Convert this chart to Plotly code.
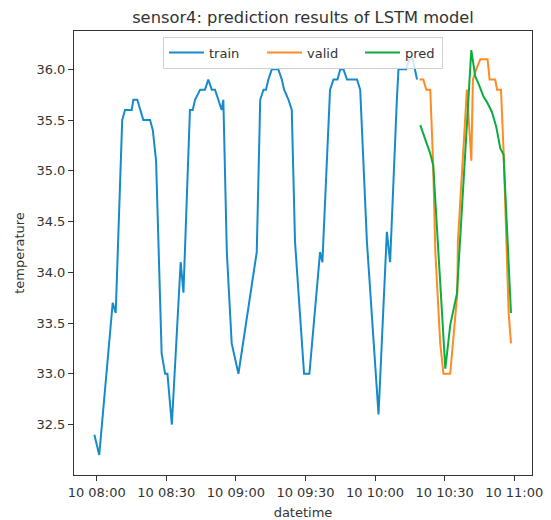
import plotly.graph_objects as go

DAY = "2021-06-10 "

train_time = ["07:59:00", "08:01:06", "08:06:54", "08:08:12", "08:11:00", "08:12:12", "08:15:06",
              "08:15:48", "08:17:30", "08:18:42", "08:20:06", "08:23:00", "08:24:12", "08:25:36",
              "08:26:36", "08:28:00", "08:29:30", "08:30:30", "08:32:24", "08:36:12", "08:37:24",
              "08:40:12", "08:41:24", "08:42:24", "08:44:36", "08:46:42", "08:48:06", "08:49:36",
              "08:51:00", "08:52:30", "08:53:54", "08:54:36", "08:56:06", "08:58:12", "09:00:24",
              "09:01:06", "09:09:00", "09:10:30", "09:11:54", "09:13:00", "09:14:00", "09:15:30",
              "09:18:18", "09:19:48", "09:20:48", "09:22:42", "09:24:06", "09:25:30", "09:29:24",
              "09:31:42", "09:36:18", "09:37:18", "09:40:36", "09:42:06", "09:43:48", "09:45:00",
              "09:46:24", "09:47:54", "09:52:12", "09:53:36", "09:56:30", "10:00:06", "10:01:30",
              "10:05:06", "10:06:30", "10:09:24", "10:10:06", "10:13:24", "10:14:54", "10:16:18",
              "10:18:06"]
train_temp = [32.4, 32.2, 33.7, 33.6, 35.5, 35.6, 35.6,
              35.7, 35.7, 35.6, 35.5, 35.5, 35.4, 35.1,
              34.2, 33.2, 33.0, 33.0, 32.5, 34.1, 33.8,
              35.6, 35.6, 35.7, 35.8, 35.8, 35.9, 35.8,
              35.8, 35.7, 35.6, 35.7, 34.2, 33.3, 33.05,
              33.0, 34.2, 35.7, 35.8, 35.8, 35.9, 36.0,
              36.0, 35.9, 35.8, 35.7, 35.6, 34.3, 33.0,
              33.0, 34.2, 34.1, 35.8, 35.9, 35.9, 36.0,
              36.0, 35.9, 35.9, 35.8, 34.3, 33.0, 32.6,
              34.4, 34.1, 35.7, 36.0, 36.0, 36.1, 36.1,
              35.9]

valid_time = ["10:19:12", "10:20:48", "10:22:06", "10:23:48", "10:25:00", "10:26:00", "10:28:06",
              "10:29:30", "10:32:24", "10:35:30", "10:35:42", "10:39:36", "10:41:30", "10:42:12",
              "10:43:36", "10:45:24", "10:48:30", "10:49:24", "10:51:48", "10:52:36", "10:54:18",
              "10:55:24", "10:57:36", "10:58:36"]
valid_temp = [35.9, 35.9, 35.8, 35.8, 35.1, 34.2, 33.3,
              33.0, 33.0, 33.8, 34.3, 35.8, 35.1, 35.9,
              36.0, 36.1, 36.1, 35.9, 35.9, 35.8, 35.8,
              35.2, 33.6, 33.3]

pred_time = ["10:19:30", "10:22:24", "10:23:48", "10:25:06", "10:30:18", "10:32:24", "10:35:18",
             "10:41:30", "10:43:12", "10:44:36", "10:46:48", "10:48:12", "10:50:24", "10:52:18",
             "10:54:00", "10:55:24", "10:58:36"]
pred_temp = [35.45, 35.25, 35.17, 35.05, 33.05, 33.48, 33.79,
             36.19, 35.93, 35.86, 35.73, 35.68, 35.58, 35.43,
             35.22, 35.16, 33.6]

x_range = ["07:50:13", "11:07:40"]
y_range = [32.003, 36.378]

BLUE = "#168bca"
ORANGE = "#ff8b22"
GREEN = "#0cad3f"
TEXT = "#333333"
FONT = "DejaVu Sans"

fig = go.Figure()
fig.add_trace(go.Scatter(x=[DAY + t for t in train_time], y=train_temp, mode="lines",
                         name="train", line=dict(color=BLUE, width=2)))
fig.add_trace(go.Scatter(x=[DAY + t for t in valid_time], y=valid_temp, mode="lines",
                         name="valid", line=dict(color=ORANGE, width=2)))
fig.add_trace(go.Scatter(x=[DAY + t for t in pred_time], y=pred_temp, mode="lines",
                         name="pred", line=dict(color=GREEN, width=2), legendwidth=32))

fig.update_layout(
    width=551, height=520,
    margin=dict(l=74, r=19, t=31, b=45),
    plot_bgcolor="white", paper_bgcolor="white",
    font=dict(family=FONT, size=13, color=TEXT),
    title=dict(text="sensor4: prediction results of LSTM model", x=0.5, xref="paper",
               xanchor="center", y=1 - 17.5 / 520, yref="container", yanchor="middle",
               font=dict(size=16.3, color=TEXT)),
    legend=dict(orientation="h", x=0.5, xanchor="center", y=0.9876, yanchor="top",
                bgcolor="rgba(255,255,255,0.8)", bordercolor="#d0d0d0", borderwidth=1,
                itemwidth=35, entrywidth=48, font=dict(size=13, color=TEXT)),
)
fig.update_xaxes(type="date", range=[DAY + x_range[0], DAY + x_range[1]],
                 tick0=DAY + "08:00", dtick=30 * 60 * 1000, tickformat="%d %H:%M",
                 ticks="outside", ticklen=5, tickcolor=TEXT, showline=True, linecolor=TEXT,
                 linewidth=1, mirror=True, showgrid=False, zeroline=False, automargin=False,
                 title=dict(text="datetime", standoff=14, font=dict(size=13)))
fig.update_yaxes(range=y_range, tick0=32.0, dtick=0.5, tickformat=".1f",
                 ticks="outside", ticklen=5, tickcolor=TEXT, showline=True, linecolor=TEXT,
                 linewidth=1, mirror=True, showgrid=False, zeroline=False, automargin=False,
                 title=dict(text="temperature", standoff=8, font=dict(size=13)))

fig.write_html("out.html")
